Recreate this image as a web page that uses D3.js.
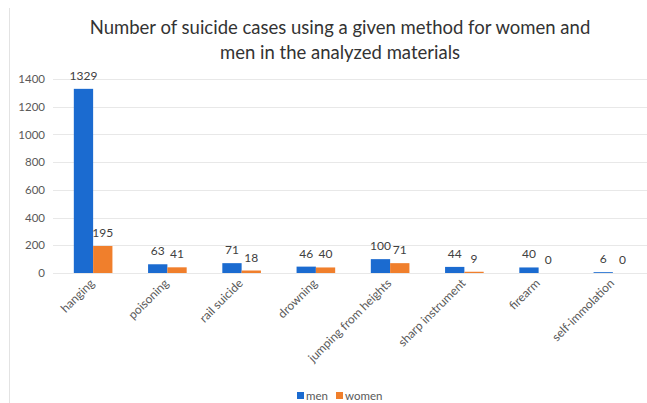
<!DOCTYPE html>
<html>
<head>
<meta charset="utf-8">
<script src="https://cdn.jsdelivr.net/npm/d3@7"></script>
<style>
  html, body { margin: 0; padding: 0; background: #fff; }
  svg { display: block; }
  text { font-family: Lato, "Liberation Sans", sans-serif; }
</style>
</head>
<body>
<svg id="chart" width="647" height="403"></svg>
<script>
// Suicide cases by method, split by sex
const methods = ["hanging", "poisoning", "rail suicide", "drowning", "jumping from heights", "sharp instrument", "firearm", "self-immolation"];
const men =   [1329, 63, 71, 46, 100, 44, 40, 6];
const women = [195, 41, 18, 40, 71, 9, 0, 0];
const seriesNames = ["men", "women"];
const yTicks = [0, 200, 400, 600, 800, 1000, 1200, 1400];
const titleLines = ["Number of suicide cases using a given method for women and", "men in the analyzed materials"];

const colors = { men: "#1b6bd0", women: "#f07f2c" };
const textGray = "#595959";

const svg = d3.select("#chart");

// frame line on the left edge of the chart area
svg.append("line")
  .attr("x1", 9.5).attr("x2", 9.5).attr("y1", 8).attr("y2", 403)
  .attr("stroke", "#e3e3e3").attr("stroke-width", 1);

// title
const title = svg.append("g").attr("fill", "#333");
titleLines.forEach((t, i) => {
  title.append("text")
    .attr("x", 340).attr("y", 34 + i * 25)
    .attr("text-anchor", "middle")
    .attr("font-size", 18.5)
    .text(t);
});

const x0 = d3.scaleBand().domain(methods).range([56, 650]).paddingInner(0.48).paddingOuter(0.24);
const x1 = d3.scaleBand().domain(seriesNames).range([0, x0.bandwidth()]);
const y = d3.scaleLinear().domain([0, 1400]).range([273, 79]);

// gridlines
svg.append("g")
  .selectAll("line").data(yTicks).join("line")
  .attr("x1", 53).attr("x2", 647)
  .attr("y1", d => Math.round(y(d)) + 0.5).attr("y2", d => Math.round(y(d)) + 0.5)
  .attr("stroke", "#e8e8e8").attr("stroke-width", 1);

// y axis labels
const yAxis = svg.append("g").attr("transform", "translate(45,0)")
  .call(d3.axisLeft(y).tickValues(yTicks).tickFormat(d3.format("d")).tickSize(0).tickPadding(0));
yAxis.select(".domain").remove();
yAxis.selectAll("text").attr("font-size", 11.5).attr("fill", textGray).attr("font-family", "Lato, 'Liberation Sans', sans-serif");

// bars
const rows = methods.map((m, i) => ({ method: m, values: [{ key: "men", v: men[i] }, { key: "women", v: women[i] }] }));
const groups = svg.append("g").selectAll("g").data(rows).join("g")
  .attr("transform", d => `translate(${x0(d.method)},0)`);

groups.selectAll("rect").data(d => d.values).join("rect")
  .attr("x", d => x1(d.key))
  .attr("width", x1.bandwidth())
  .attr("y", d => y(d.v))
  .attr("height", d => y(0) - y(d.v))
  .attr("fill", d => colors[d.key]);

// value labels
groups.selectAll("text").data(d => d.values).join("text")
  .attr("x", d => x1(d.key) + x1.bandwidth() / 2)
  .attr("y", d => y(d.v) - 9)
  .attr("text-anchor", "middle")
  .attr("font-size", 12)
  .attr("fill", "#404040")
  .text(d => d.v);

// category labels, rotated
svg.append("g").selectAll("text").data(methods).join("text")
  .attr("transform", d => `translate(${x0(d) + x0.bandwidth() / 2 + 2},${284}) rotate(-45)`)
  .attr("text-anchor", "end")
  .attr("font-size", 12)
  .attr("fill", textGray)
  .text(d => d);

// legend
const legend = svg.append("g").attr("transform", "translate(297,396)");
const legendItems = [{ key: "men", x: 0 }, { key: "women", x: 39 }];
legendItems.forEach(it => {
  legend.append("rect").attr("x", it.x).attr("y", -4).attr("width", 7).attr("height", 7).attr("fill", colors[it.key]);
  legend.append("text").attr("x", it.x + 9).attr("y", 3.5)
    .attr("font-size", 11.5).attr("fill", textGray).text(it.key);
});
</script>
</body>
</html>
